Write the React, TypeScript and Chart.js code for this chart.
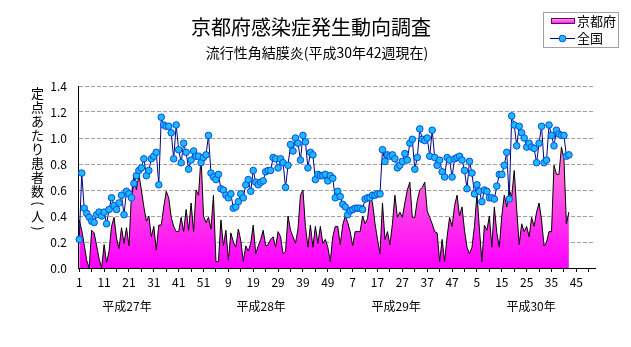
import React, { useEffect, useRef } from 'react';
import { Chart, registerables } from 'chart.js';

Chart.register(...registerables);

const TITLE = '京都府感染症発生動向調査';
const SUBTITLE = '流行性角結膜炎(平成30年42週現在)';
const Y_LABEL = '定点あたり患者数(人)';
const SERIES_NAMES = ['京都府', '全国'];
const YEAR_LABELS = ['平成27年', '平成28年', '平成29年', '平成30年'];
const WEEKS_PER_YEAR = 52;

// category labels: week numbers of each year
const weekLabels: string[] = [];
for (let y = 0; y < YEAR_LABELS.length; y++) {
  for (let w = 1; w <= WEEKS_PER_YEAR; w++) weekLabels.push(String(w));
}

const kyoto = [
  0.37, 0.29, 0.18, 0.06, 0.0, 0.29, 0.27, 0.17, 0.07, 0.0,
  0.18, 0.04, 0.13, 0.32, 0.39, 0.23, 0.15, 0.31, 0.19, 0.31,
  0.17, 0.56, 0.72, 0.6, 0.72, 0.6, 0.47, 0.36, 0.4, 0.24,
  0.32, 0.14, 0.33, 0.33, 0.47, 0.59, 0.54, 0.39, 0.32, 0.28,
  0.28, 0.39, 0.28, 0.45, 0.29, 0.5, 0.28, 0.6, 0.56, 0.86,
  0.4, 0.35, 0.39, 0.3, 0.56, 0.05, 0.05, 0.37, 0.17, 0.29,
  0.06, 0.27, 0.2, 0.16, 0.3, 0.21, 0.05, 0.17, 0.13, 0.19,
  0.33, 0.11, 0.17, 0.22, 0.29, 0.17, 0.18, 0.22, 0.24, 0.16,
  0.28, 0.24, 0.11, 0.13, 0.4, 0.29, 0.24, 0.19, 0.3, 0.56,
  0.6, 0.32, 0.16, 0.33, 0.16, 0.32, 0.19, 0.32, 0.19, 0.22,
  0.16, 0.05, 0.24, 0.32, 0.32, 0.18, 0.33, 0.4, 0.35, 0.28,
  0.17, 0.28, 0.28, 0.28, 0.4, 0.34, 0.38, 0.55, 0.5, 0.34,
  0.22, 0.11, 0.5, 0.22, 0.28, 0.18, 0.34, 0.56, 0.39, 0.43,
  0.39, 0.5, 0.6, 0.66, 0.39, 0.39, 0.52, 0.6, 0.62, 0.66,
  0.44, 0.39, 0.34, 0.28, 0.27, 0.05, 0.22, 0.05, 0.24, 0.39,
  0.32, 0.48, 0.56, 0.4, 0.47, 0.29, 0.16, 0.11, 0.16, 0.32,
  0.57, 0.3, 0.05, 0.33, 0.29, 0.4, 0.16, 0.47, 0.27, 0.16,
  0.4, 0.56, 0.47, 0.6, 0.55, 0.75, 0.45, 0.18, 0.34, 0.28,
  0.32, 0.24, 0.39, 0.32, 0.43, 0.5, 0.37, 0.17, 0.2, 0.28,
  0.28, 0.79, 0.72, 0.72, 0.93, 0.84, 0.34, 0.43,
];

const national = [
  0.22, 0.73, 0.46, 0.42, 0.39, 0.36, 0.35, 0.41, 0.43, 0.4,
  0.43, 0.34, 0.45, 0.54, 0.48, 0.45, 0.5, 0.56, 0.41, 0.59,
  0.57, 0.54, 0.65, 0.71, 0.75, 0.77, 0.84, 0.71, 0.75, 0.84,
  0.86, 0.89, 0.64, 1.16, 1.1, 1.09, 1.09, 1.04, 0.84, 1.1,
  0.91, 0.81, 0.96, 0.89, 0.76, 0.83, 0.9, 0.86, 0.86, 0.81,
  0.85, 0.87, 1.02, 0.73, 0.7, 0.68, 0.72, 0.61, 0.6, 0.56,
  0.54, 0.57, 0.46, 0.47, 0.51, 0.57, 0.54, 0.64, 0.68, 0.59,
  0.75, 0.66, 0.64, 0.66, 0.67, 0.74, 0.75, 0.75, 0.85, 0.84,
  0.77, 0.84, 0.81, 0.62, 0.79, 0.95, 0.9, 1.0, 0.96, 0.83,
  1.02, 0.97, 0.77, 0.89, 0.87, 0.68, 0.72, 0.71, 0.71, 0.72,
  0.67, 0.71, 0.69, 0.54, 0.59, 0.55, 0.49, 0.47, 0.41, 0.44,
  0.45, 0.46, 0.46, 0.46, 0.45, 0.53, 0.54, 0.54, 0.56, 0.56,
  0.57, 0.57, 0.91, 0.82, 0.87, 0.86, 0.87, 0.84, 0.77, 0.79,
  0.82, 0.88, 0.83, 0.96, 0.99, 0.76, 0.85, 1.07, 0.99, 0.98,
  1.0, 0.86, 1.06, 0.85, 0.79, 0.83, 0.74, 0.7, 0.85, 0.83,
  0.7, 0.84, 0.85, 0.86, 0.83, 0.75, 0.61, 0.82, 0.73, 0.57,
  0.64, 0.59, 0.51, 0.6, 0.59, 0.54, 0.54, 0.53, 0.63, 0.72,
  0.72, 0.79, 0.89, 0.53, 1.17, 1.1, 0.94, 1.09, 1.04, 1.0,
  0.93, 0.96, 0.93, 0.92, 0.81, 0.96, 1.09, 0.81, 0.83, 1.1,
  1.02, 0.94, 1.06, 1.03, 1.02, 1.02, 0.86, 0.87,
];

const Y_MIN = 0;
const Y_MAX = 1.4;
const Y_STEP = 0.2;

const FONT = '"Noto Sans CJK JP", "Noto Sans", sans-serif';
const POINT_FILL = '#1EB8FF';
const POINT_BORDER = '#0050E0';
const LINE_NAVY = '#000080';

// fractional category positions at which the year captions are centred
const YEAR_CENTERS = [19.2, 73.2, 127.5, 181.8];

function pinkGradient(ctx: CanvasRenderingContext2D, y0: number, y1: number) {
  const g = ctx.createLinearGradient(0, y0, 0, y1);
  g.addColorStop(0, '#FFB0DC');
  g.addColorStop(0.33, '#FF80D0');
  g.addColorStop(1, '#FF00FF');
  return g;
}

const overlayPlugin = {
  id: 'overlay',
  afterDraw(chart: any) {
    const ctx: CanvasRenderingContext2D = chart.ctx;
    ctx.save();
    ctx.fillStyle = '#000';
    ctx.textAlign = 'center';
    ctx.textBaseline = 'middle';
    ctx.font = `20px ${FONT}`;
    ctx.fillText(TITLE, 311, 27);
    ctx.font = `14px ${FONT}`;
    ctx.fillText(SUBTITLE, 317, 53);

    // vertical y-axis caption
    ctx.font = `13px ${FONT}`;
    let y = 93;
    const chars = Array.from(Y_LABEL);
    chars.forEach((ch, i) => {
      const isParen = ch === '(' || ch === ')';
      if (i > 0) {
        const prevParen = chars[i - 1] === '(' || chars[i - 1] === ')';
        y += prevParen || isParen ? 12.5 : 14;
      }
      if (isParen) {
        ctx.save();
        ctx.translate(37.5, y);
        ctx.rotate(Math.PI / 2);
        ctx.fillText(ch, 0, 0);
        ctx.restore();
      } else {
        ctx.fillText(ch, 37.5, y);
      }
    });

    // year captions
    const xs = chart.scales.x;
    ctx.font = `12px ${FONT}`;
    YEAR_LABELS.forEach((lab, k) => {
      ctx.fillText(lab, xs.getPixelForValue(YEAR_CENTERS[k]), 306);
    });

    // legend
    ctx.strokeStyle = '#A0A0A0';
    ctx.lineWidth = 1;
    ctx.strokeRect(543.5, 12.5, 75, 35);
    ctx.fillStyle = pinkGradient(ctx, 18, 24);
    ctx.fillRect(551, 18, 24, 6);
    ctx.strokeStyle = '#700070';
    ctx.strokeRect(551.5, 18.5, 23, 5);
    ctx.strokeStyle = LINE_NAVY;
    ctx.beginPath();
    ctx.moveTo(550, 38.5);
    ctx.lineTo(575, 38.5);
    ctx.stroke();
    ctx.beginPath();
    ctx.arc(562.5, 38.5, 3.3, 0, Math.PI * 2);
    ctx.fillStyle = POINT_FILL;
    ctx.fill();
    ctx.strokeStyle = POINT_BORDER;
    ctx.stroke();
    ctx.fillStyle = '#000';
    ctx.textAlign = 'left';
    ctx.font = `13px ${FONT}`;
    ctx.fillText(SERIES_NAMES[0], 577, 21);
    ctx.fillText(SERIES_NAMES[1], 577, 38.5);
    ctx.restore();
  },
};

export default function App() {
  const ref = useRef<HTMLCanvasElement | null>(null);
  useEffect(() => {
    if (!ref.current) return;
    Chart.defaults.font.family = FONT;
    Chart.defaults.font.size = 12;
    Chart.defaults.color = '#000';
    const chart = new Chart(ref.current, {
      type: 'line',
      data: {
        labels: weekLabels,
        datasets: [
          {
            label: SERIES_NAMES[1],
            data: national,
            borderColor: LINE_NAVY,
            borderWidth: 1,
            pointRadius: 3.3,
            pointBorderWidth: 1,
            pointBackgroundColor: POINT_FILL,
            pointBorderColor: POINT_BORDER,
            tension: 0,
            fill: false,
          },
          {
            label: SERIES_NAMES[0],
            data: kyoto,
            borderColor: '#000',
            borderWidth: 1,
            pointRadius: 0,
            tension: 0,
            fill: 'origin',
            backgroundColor: (c: any) => {
              const area = c.chart.chartArea;
              if (!area) return '#FF00FF';
              return pinkGradient(c.chart.ctx, area.top, area.bottom);
            },
          },
        ],
      },
      options: {
        responsive: false,
        animation: false,
        events: [],
        layout: { padding: { top: 86, right: 36, left: 0, bottom: 0 } },
        plugins: {
          legend: { display: false },
          tooltip: { enabled: false },
          title: { display: false },
        },
        scales: {
          x: {
            type: 'category',
            offset: true,
            afterFit: (s: any) => {
              s.height = 79;
            },
            grid: {
              offset: false,
              drawOnChartArea: false,
              drawTicks: true,
              tickLength: 4,
              color: '#000',
            },
            border: { display: true, color: '#000', width: 1 },
            ticks: {
              autoSkip: false,
              maxRotation: 0,
              minRotation: 0,
              padding: 3,
              font: { size: 12 },
              callback: (_v: any, i: number) =>
                i % 5 !== 0 ? null : i % 10 === 0 ? weekLabels[i] : '',
            },
          },
          y: {
            min: Y_MIN,
            max: Y_MAX,
            afterFit: (s: any) => {
              s.width = 78;
            },
            grid: {
              color: '#A0A0A0',
              drawTicks: false,
            },
            border: { display: true, color: '#000', width: 1, dash: [4, 2] },
            ticks: {
              stepSize: Y_STEP,
              padding: 11,
              font: { size: 12 },
              callback: (v: any) => Number(v).toFixed(1),
            },
          },
        },
      },
      plugins: [overlayPlugin],
    });
    return () => chart.destroy();
  }, []);
  return (
    <div style={{ position: 'absolute', left: 0, top: 0, width: 631, height: 347, background: '#fff' }}>
      <canvas ref={ref} width={631} height={347} />
    </div>
  );
}
